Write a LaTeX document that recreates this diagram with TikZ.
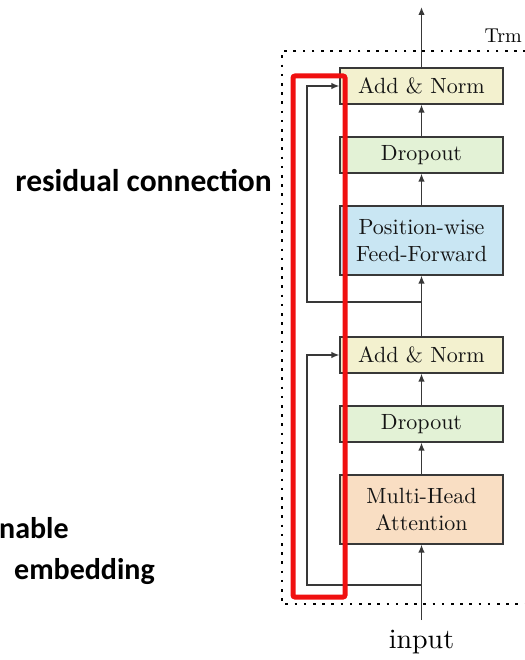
\documentclass[tikz,border=0pt]{standalone}
\usepackage{fontspec}
\newfontfamily\labelfont{Carlito}
\newfontfamily\boxfont{lmroman10-regular}[Extension=.otf]
\usetikzlibrary{arrows.meta}
\definecolor{normfill}{HTML}{F3F1CF}
\definecolor{dropfill}{HTML}{E3F2D6}
\definecolor{ffnfill}{HTML}{C9E6F3}
\definecolor{attfill}{HTML}{F9DEC3}
\definecolor{edge}{HTML}{383838}
\definecolor{hl}{HTML}{F01010}
\tikzset{
  layer/.style={draw=edge, line width=1.2pt, minimum width=163pt, minimum height=36pt,
    inner sep=0pt, align=center, font=\boxfont\fontsize{22}{27}\selectfont, text=black!92},
  tall/.style={layer, minimum height=69pt},
  flow/.style={draw=edge, line width=1.4pt, -{Latex[length=8pt,width=6.5pt]}},
  dotline/.style={draw=black, line width=2.6pt, dash pattern=on 2.6pt off 6.6pt},
  sidenote/.style={font=\labelfont\bfseries\fontsize{30}{34}\selectfont, inner sep=0pt}
}
\begin{document}
\begin{tikzpicture}[x=1pt,y=-1pt]
\useasboundingbox (0,0) rectangle (524,660);

% outer dotted frame of the block
\draw[dotline] (526,51) -- (282,51) -- (282,604) -- (526,604);
\node[anchor=south east, inner sep=0pt, font=\boxfont\fontsize{20}{24}\selectfont] (trm) at (522,43) {Trm};

% layers of the block
\node[layer, fill=normfill] (an1) at (421.5,86) {Add \& Norm};
\node[layer, fill=dropfill] (do1) at (421.5,155) {Dropout};
\node[tall, fill=ffnfill] (ff) at (421.5,240.5) {Position-wise\\Feed-Forward};
\node[layer, fill=normfill] (an2) at (421.5,355) {Add \& Norm};
\node[layer, fill=dropfill] (do2) at (421.5,424) {Dropout};
\node[tall, fill=attfill] (mha) at (421.5,509.5) {Multi-Head\\Attention};

\coordinate (out) at (421.5,7);
\coordinate (in) at (421.5,620);
\coordinate (r1) at (421.5,302);
\coordinate (r2) at (421.5,585);
\node[inner sep=0pt, font=\boxfont\fontsize{28}{32}\selectfont] (inp) at (421.5,642) {input};

% main data flow
\draw[flow] (in) -- (mha);
\draw[flow] (mha) -- (do2);
\draw[flow] (do2) -- (an2);
\draw[flow] (an2) -- (ff);
\draw[flow] (ff) -- (do1);
\draw[flow] (do1) -- (an1);
\draw[flow] (an1) -- (out);

% skip connections
\draw[flow] (r1) -- (307,302) |- (an1.west);
\draw[flow] (r2) -- (307,585) |- (an2.west);

% highlight around the skip connections
\draw[hl, line width=5pt, rounded corners=2pt] (293,76) rectangle (345,597);

% annotations
\node[sidenote, anchor=east, font=\labelfont\bfseries\fontsize{31.5}{34}\selectfont] (res) at (272,181) {residual connection};
\node[sidenote, anchor=west] (lrn) at (-1,528) {nable};
\node[sidenote, anchor=west] (emb) at (14,572) {embedding};
\end{tikzpicture}
\end{document}
